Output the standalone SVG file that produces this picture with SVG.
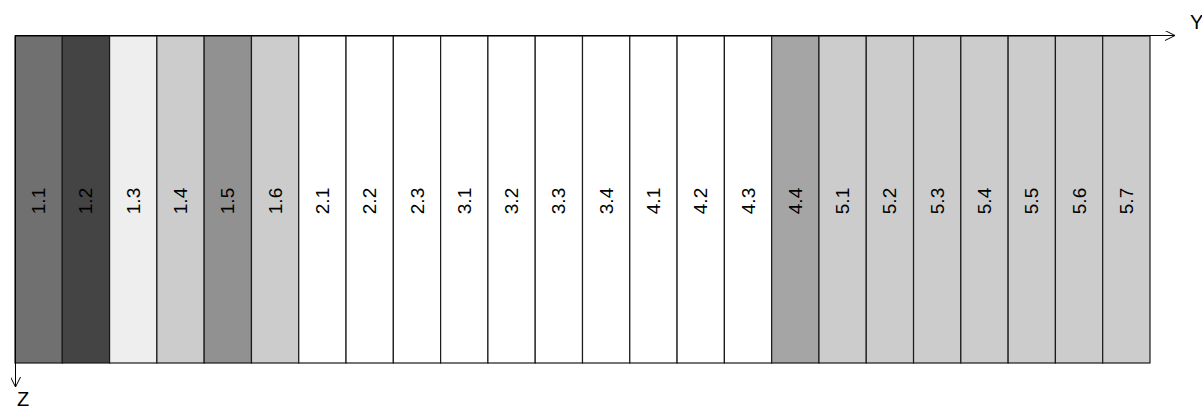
<svg xmlns="http://www.w3.org/2000/svg" width="1202" height="408" viewBox="0 0 1202 408">
<style>
.c{stroke:#1a1a1a;stroke-width:1.2}
.t{font-family:"Liberation Sans",Arial,sans-serif;font-size:19px;fill:#000;text-anchor:middle;dominant-baseline:central}
.ax{stroke:#000;stroke-width:1;fill:none}
.al{font-family:"Liberation Sans",Arial,sans-serif;font-size:20px;fill:#000}
</style>
<defs>
<marker id="arr" viewBox="0 0 10 10" refX="10" refY="5" markerWidth="10" markerHeight="10" markerUnits="userSpaceOnUse" orient="auto">
<path d="M0,0 L10,5 L0,10" fill="none" stroke="#000" stroke-width="1"/>
</marker>
</defs>
<rect width="1202" height="408" fill="#fff"/>
<g id="cells">
<g id="c1.1"><rect class="c" x="15" y="36" width="47.29" height="327" fill="#707070"/><text class="t" transform="translate(38.6,201) rotate(-90)">1.1</text></g>
<g id="c1.2"><rect class="c" x="62.29" y="36" width="47.29" height="327" fill="#444444"/><text class="t" transform="translate(85.9,201) rotate(-90)">1.2</text></g>
<g id="c1.3"><rect class="c" x="109.58" y="36" width="47.29" height="327" fill="#eeeeee"/><text class="t" transform="translate(133.2,201) rotate(-90)">1.3</text></g>
<g id="c1.4"><rect class="c" x="156.88" y="36" width="47.29" height="327" fill="#cccccc"/><text class="t" transform="translate(180.5,201) rotate(-90)">1.4</text></g>
<g id="c1.5"><rect class="c" x="204.17" y="36" width="47.29" height="327" fill="#919191"/><text class="t" transform="translate(227.8,201) rotate(-90)">1.5</text></g>
<g id="c1.6"><rect class="c" x="251.46" y="36" width="47.29" height="327" fill="#cccccc"/><text class="t" transform="translate(275.1,201) rotate(-90)">1.6</text></g>
<g id="c2.1"><rect class="c" x="298.75" y="36" width="47.29" height="327" fill="#ffffff"/><text class="t" transform="translate(322.4,201) rotate(-90)">2.1</text></g>
<g id="c2.2"><rect class="c" x="346.04" y="36" width="47.29" height="327" fill="#ffffff"/><text class="t" transform="translate(369.7,201) rotate(-90)">2.2</text></g>
<g id="c2.3"><rect class="c" x="393.33" y="36" width="47.29" height="327" fill="#ffffff"/><text class="t" transform="translate(417.0,201) rotate(-90)">2.3</text></g>
<g id="c3.1"><rect class="c" x="440.63" y="36" width="47.29" height="327" fill="#ffffff"/><text class="t" transform="translate(464.3,201) rotate(-90)">3.1</text></g>
<g id="c3.2"><rect class="c" x="487.92" y="36" width="47.29" height="327" fill="#ffffff"/><text class="t" transform="translate(511.6,201) rotate(-90)">3.2</text></g>
<g id="c3.3"><rect class="c" x="535.21" y="36" width="47.29" height="327" fill="#ffffff"/><text class="t" transform="translate(558.9,201) rotate(-90)">3.3</text></g>
<g id="c3.4"><rect class="c" x="582.5" y="36" width="47.29" height="327" fill="#ffffff"/><text class="t" transform="translate(606.1,201) rotate(-90)">3.4</text></g>
<g id="c4.1"><rect class="c" x="629.79" y="36" width="47.29" height="327" fill="#ffffff"/><text class="t" transform="translate(653.4,201) rotate(-90)">4.1</text></g>
<g id="c4.2"><rect class="c" x="677.08" y="36" width="47.29" height="327" fill="#ffffff"/><text class="t" transform="translate(700.7,201) rotate(-90)">4.2</text></g>
<g id="c4.3"><rect class="c" x="724.38" y="36" width="47.29" height="327" fill="#ffffff"/><text class="t" transform="translate(748.0,201) rotate(-90)">4.3</text></g>
<g id="c4.4"><rect class="c" x="771.67" y="36" width="47.29" height="327" fill="#a5a5a5"/><text class="t" transform="translate(795.3,201) rotate(-90)">4.4</text></g>
<g id="c5.1"><rect class="c" x="818.96" y="36" width="47.29" height="327" fill="#cccccc"/><text class="t" transform="translate(842.6,201) rotate(-90)">5.1</text></g>
<g id="c5.2"><rect class="c" x="866.25" y="36" width="47.29" height="327" fill="#cccccc"/><text class="t" transform="translate(889.9,201) rotate(-90)">5.2</text></g>
<g id="c5.3"><rect class="c" x="913.54" y="36" width="47.29" height="327" fill="#cccccc"/><text class="t" transform="translate(937.2,201) rotate(-90)">5.3</text></g>
<g id="c5.4"><rect class="c" x="960.83" y="36" width="47.29" height="327" fill="#cccccc"/><text class="t" transform="translate(984.5,201) rotate(-90)">5.4</text></g>
<g id="c5.5"><rect class="c" x="1008.13" y="36" width="47.29" height="327" fill="#cccccc"/><text class="t" transform="translate(1031.8,201) rotate(-90)">5.5</text></g>
<g id="c5.6"><rect class="c" x="1055.42" y="36" width="47.29" height="327" fill="#cccccc"/><text class="t" transform="translate(1079.1,201) rotate(-90)">5.6</text></g>
<g id="c5.7"><rect class="c" x="1102.71" y="36" width="47.29" height="327" fill="#cccccc"/><text class="t" transform="translate(1126.4,201) rotate(-90)">5.7</text></g>
</g>
<g id="axes">
<line class="ax" x1="15" y1="35.5" x2="1175" y2="35.5" marker-end="url(#arr)"/>
<line class="ax" x1="15.5" y1="36" x2="15.5" y2="387" marker-end="url(#arr)"/>
<text class="al" x="1190" y="29">Y</text>
<text class="al" x="17" y="406">Z</text>
</g>
</svg>
